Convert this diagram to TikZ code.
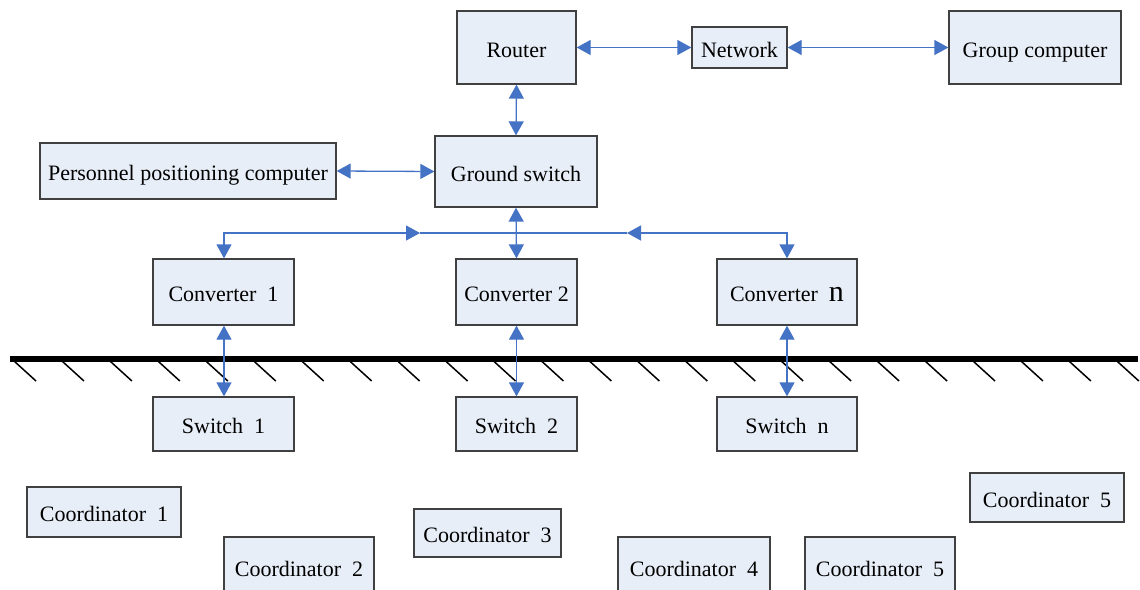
\documentclass[tikz,border=0pt]{standalone}
\usepackage{fontspec}
\setmainfont{Liberation Serif}
\usetikzlibrary{arrows.meta}
\definecolor{boxfill}{HTML}{E8EEF7}
\definecolor{boxline}{HTML}{404040}
\definecolor{arr}{HTML}{4472C4}
\tikzset{
  box/.style={draw=boxline, fill=boxfill, line width=1.3pt, inner sep=0pt,
    text height=20pt, text depth=1pt,
    font=\fontsize{22}{26}\selectfont},
  link/.style={draw=arr, line width=1.3pt},
  tri/.tip={Triangle[length=14pt,width=15pt]},
  both/.style={link, tri-tri},
  ground/.style={line width=6pt, black},
  hatch/.style={line width=1.5pt, black},
}
\begin{document}
\begin{tikzpicture}[x=1pt,y=-1pt]
\useasboundingbox (0,0) rectangle (1140,589);
\clip (0,0) rectangle (1140,589);
% top row
\node[box, minimum width=119pt, minimum height=73pt] (router) at (516.5,47.5) {Router};
\node[box, minimum width=95pt, minimum height=41pt] (network) at (739.5,47.5) {Network};
\node[box, minimum width=172pt, minimum height=73pt] (group) at (1035,47.5) {Group computer};
% second row
\node[box, minimum width=162pt, minimum height=71pt] (gswitch) at (516,171.5) {Ground switch};
\node[box, minimum width=296pt, minimum height=56pt] (person) at (188,171) {Personnel positioning computer};
% converters
\node[box, minimum width=141pt, minimum height=66pt] (conv1) at (223.5,292) {Converter\ \ 1};
\node[box, minimum width=121pt, minimum height=66pt] (conv2) at (516.5,292) {Converter 2};
\node[box, minimum width=140pt, minimum height=66pt] (convn) at (787,292) {Converter\ \ {\fontsize{30}{30}\selectfont n}};
% switches
\node[box, minimum width=141pt, minimum height=54pt] (sw1) at (223.5,424) {Switch\ \ 1};
\node[box, minimum width=121pt, minimum height=54pt] (sw2) at (516.5,424) {Switch\ \ 2};
\node[box, minimum width=140pt, minimum height=54pt] (swn) at (787,424) {Switch\ \ n};
% coordinators
\node[box, minimum width=154pt, minimum height=50pt] (co1) at (104,512) {Coordinator\ \ 1};
\node[box, minimum width=150pt, minimum height=60pt] (co2) at (299,567) {Coordinator\ \ 2};
\node[box, minimum width=147pt, minimum height=48pt] (co3) at (487.5,533) {Coordinator\ \ 3};
\node[box, minimum width=152pt, minimum height=60pt] (co4) at (694,567) {Coordinator\ \ 4};
\node[box, minimum width=150pt, minimum height=60pt] (co5b) at (880,567) {Coordinator\ \ 5};
\node[box, minimum width=154pt, minimum height=49pt] (co5r) at (1047,497.5) {Coordinator\ \ 5};
% ground line
\coordinate (gl) at (10,359);
\coordinate (gr) at (1138,359);
\draw[ground] (gl) -- (gr);
\foreach \k in {0,...,23}{
  \draw[hatch] ({14+47.95*\k},361) -- ++(22,20);
}
% connectors
\draw[both] (router.east) -- (network.west);
\draw[both] (network.east) -- (group.west);
\draw[both] (router.south) -- (gswitch.north);
\draw[both] (person.east) -- (gswitch.west);
\draw[both] (gswitch.south) -- (conv2.north);
\coordinate (busL) at (420,233);
\coordinate (busR) at (627,233);
\draw[both] (busL) -| ([xshift=0.5pt]conv1.north);
\draw[both] (busR) -| (convn.north);
\draw[link] (busL) -- (busR);
\draw[both] ([xshift=0.5pt]conv1.south) -- ([xshift=0.5pt]sw1.north);
\draw[both] (conv2.south) -- (sw2.north);
\draw[both] (convn.south) -- (swn.north);
\end{tikzpicture}
\end{document}
